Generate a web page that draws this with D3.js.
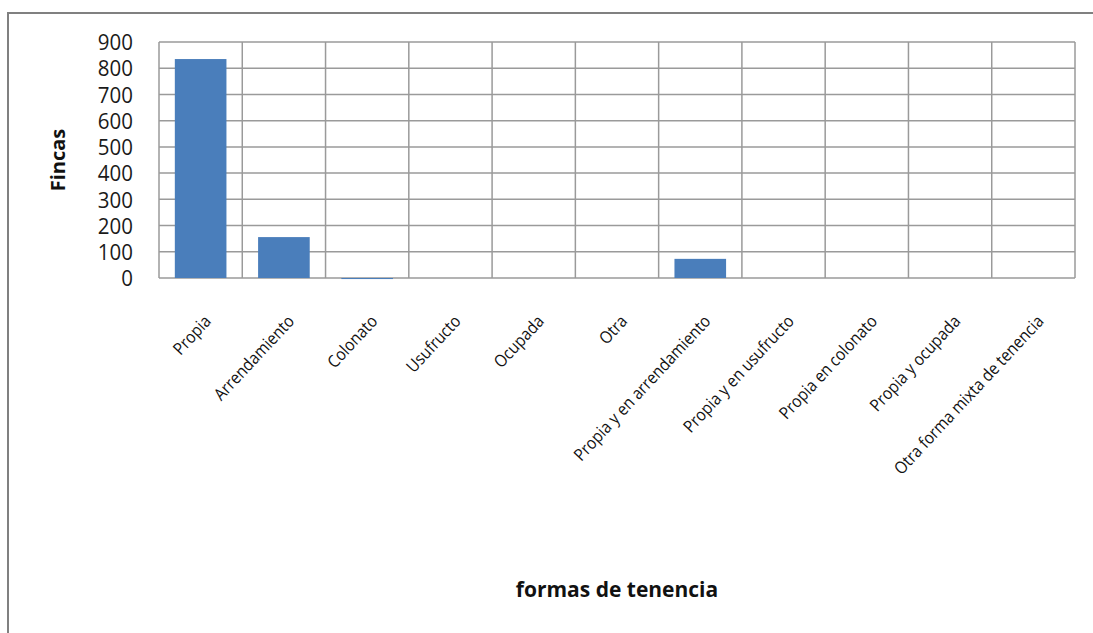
<!DOCTYPE html>
<html><head><meta charset="utf-8">
<script src="https://cdn.jsdelivr.net/npm/d3@7"></script>
<style>body{margin:0;background:#fff}svg{display:block}</style>
</head><body>
<svg id="c" width="1093" height="633"></svg>
<script>
const categories = ["Propia","Arrendamiento","Colonato","Usufructo","Ocupada","Otra","Propia y en arrendamiento","Propia y en usufructo","Propia en colonato","Propia y ocupada","Otra forma mixta de tenencia"];
const values = [835, 156, -4, 0, 0, 0, 73, 0, 0, 0, 0];
const yTicks = [0,100,200,300,400,500,600,700,800,900];
const yTitle = "Fincas";
const xTitle = "formas de tenencia";

const svg = d3.select("#c");
const L = 159, R = 1075, T = 42, B = 278;
svg.append("path").attr("d", `M8,640 V13 H1100`).attr("fill","none").attr("stroke","#808080").attr("stroke-width",2);

const x = d3.scaleBand().domain(categories).range([L, R]).paddingInner(0.38).paddingOuter(0.19);
const xb = d3.scaleBand().domain(categories).range([L, R]);
const y = d3.scaleLinear().domain([0, 900]).range([B, T]);

const g = svg.append("g");
g.selectAll("line.h").data(yTicks).join("line").attr("class","h")
  .attr("x1", L).attr("x2", R).attr("y1", d=>y(d)).attr("y2", d=>y(d))
  .attr("stroke","#9a9a9a").attr("stroke-width",1.5);
const vx = categories.map(c=>xb(c)).concat([R]);
g.selectAll("line.v").data(vx).join("line").attr("class","v")
  .attr("x1", d=>d).attr("x2", d=>d).attr("y1", T).attr("y2", B)
  .attr("stroke","#9a9a9a").attr("stroke-width",1.5);

g.selectAll("rect").data(values).join("rect")
  .attr("x", (d,i)=>x(categories[i]))
  .attr("width", x.bandwidth())
  .attr("y", d=>Math.min(y(d), y(0)))
  .attr("height", d=>Math.abs(y(d)-y(0)))
  .attr("fill","#4a7ebb");

const yAxis = d3.axisLeft(y).tickValues(yTicks).tickSize(0).tickPadding(0);
const ya = svg.append("g").attr("transform",`translate(${L-26},0)`).call(yAxis);
ya.select(".domain").remove();
ya.selectAll("text").attr("font-family","Open Sans").attr("font-size",20.5).attr("fill","#1a1a1a")
  .attr("dy","0.36em").attr("transform","scale(1,1.05)");

const xAxis = d3.axisBottom(xb).tickSize(0).tickPadding(0);
const xa = svg.append("g").attr("transform",`translate(0,${B})`).call(xAxis);
xa.select(".domain").remove();
xa.selectAll("text").attr("font-family","Open Sans").attr("font-size",17).attr("fill","#111")
  .attr("text-anchor","end").attr("y",null).attr("dy","0.35em")
  .attr("transform","translate(7,40) rotate(-47) scale(0.9,1)");

svg.append("text").attr("transform","translate(65,160) rotate(-90)")
  .attr("text-anchor","middle").attr("font-family","Open Sans").attr("font-weight","bold")
  .attr("font-size",20).attr("fill","#111").text(yTitle);
svg.append("text").attr("x",617).attr("y",597)
  .attr("text-anchor","middle").attr("font-family","Open Sans").attr("font-weight","bold")
  .attr("font-size",21).attr("fill","#111").text(xTitle);
</script>
</body></html>
